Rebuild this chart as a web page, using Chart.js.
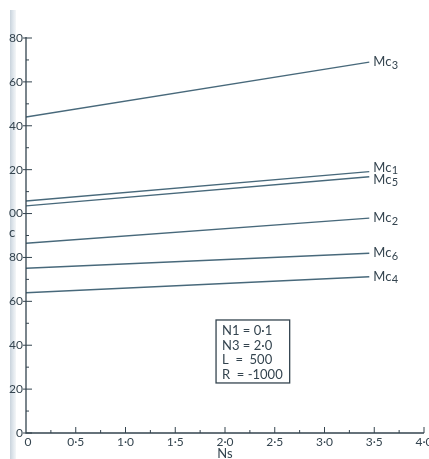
<!DOCTYPE html>
<html><head><meta charset="utf-8">
<style>html,body{margin:0;padding:0;background:#fff}#wrap{width:429px;height:459px;position:relative}</style>
<script src="https://cdn.jsdelivr.net/npm/chart.js@4.4.0/dist/chart.umd.min.js"></script>
</head><body><div id="wrap"><canvas id="c" width="429" height="459"></canvas></div>
<script>
const seriesNames = ['Mc3','Mc1','Mc5','Mc2','Mc6','Mc4'];
const labelNudge = [0,-4,3,0,0,0];
const nsValues = [0, 3.45];
const mc3 = [144, 169];
const mc1 = [105.7, 119.1];
const mc5 = [103.5, 116.8];
const mc2 = [86.5, 97.9];
const mc6 = [75.1, 81.9];
const mc4 = [63.9, 71.2];
const seriesValues = [mc3, mc1, mc5, mc2, mc6, mc4];
const yTicks = [0,20,40,60,80,100,120,140,160,180];
const xTicks = [0,0.5,1,1.5,2,2.5,3,3.5,4];
const boxLines = ['N1 = 0·1','N3 = 2·0','L  =  500','R  = -1000'];

const ink = '#34444f';
const lineCol = '#48697b';

const datasets = seriesValues.map((vals,i)=>({
  label: seriesNames[i],
  data: nsValues.map((x,j)=>({x:x,y:vals[j]})),
  borderColor: lineCol, borderWidth: 1.4, pointRadius: 0, fill:false, tension:0
}));

function yLabel(v){ return v>=100 ? String(v).slice(1) : String(v); }
function xLabel(v){ return v===0 ? '0' : v.toFixed(1).replace('.','·'); }

const deco = {
  id:'deco',
  beforeDraw(chart){
    const ctx = chart.ctx;
    const g = ctx.createLinearGradient(10,0,16,0);
    g.addColorStop(0,'#c9d3dc'); g.addColorStop(0.5,'#dfe6ec'); g.addColorStop(1,'#f4f6f8');
    ctx.fillStyle = g; ctx.fillRect(10,10,6,449);
  },
  afterDraw(chart){
    const ctx = chart.ctx, xs = chart.scales.x, ys = chart.scales.y;
    const x0 = xs.getPixelForValue(0), y0 = ys.getPixelForValue(0);
    ctx.save();
    ctx.strokeStyle = ink; ctx.lineWidth = 1.3;
    ctx.beginPath();
    ctx.moveTo(x0, ys.getPixelForValue(180)-1); ctx.lineTo(x0, y0);
    ctx.lineTo(xs.getPixelForValue(4), y0); ctx.stroke();
    ctx.lineWidth = 1;
    for(let v=0; v<=180; v+=10){
      const p = ys.getPixelForValue(v);
      ctx.beginPath();
      if(v%20===0){ ctx.moveTo(x0-3,p); ctx.lineTo(x0+6,p);} else { ctx.moveTo(x0,p); ctx.lineTo(x0+3,p);}
      ctx.stroke();
    }
    for(let v=0.25; v<=4.001; v+=0.25){
      const p = xs.getPixelForValue(v);
      ctx.beginPath();
      const major = Math.abs((v*2)-Math.round(v*2))<1e-6;
      ctx.moveTo(p,y0); ctx.lineTo(p, y0-(major?6:3)); ctx.stroke();
    }
    ctx.fillStyle = ink; ctx.font = '12px Lato';
    ctx.textAlign='right'; ctx.textBaseline='middle';
    yTicks.forEach(v=>{ ctx.fillText(yLabel(v), x0-3, ys.getPixelForValue(v)); });
    ctx.textAlign='center'; ctx.textBaseline='middle';
    xTicks.forEach(v=>{ ctx.fillText(xLabel(v), xs.getPixelForValue(v)+ (v===0?2:0), y0+9); });
    ctx.font = '13px Lato';
    ctx.fillText('Ns', xs.getPixelForValue(2), y0+21);
    ctx.fillText('c', 12, ys.getPixelForValue(91));
    chart.data.datasets.forEach((ds,i)=>{
      const last = ds.data[ds.data.length-1];
      const px = xs.getPixelForValue(last.x)+4, py = ys.getPixelForValue(last.y)+labelNudge[i];
      const nm = ds.label;
      ctx.textAlign='left'; ctx.textBaseline='middle';
      ctx.font = '13px Lato';
      ctx.fillText(nm.slice(0,2), px, py);
      const w = ctx.measureText(nm.slice(0,2)).width;
      ctx.font = '11px Lato';
      ctx.fillText(nm.slice(2), px+w+0.5, py+3);
    });
    const bx1 = xs.getPixelForValue(1.91), bx2 = xs.getPixelForValue(2.65);
    const by1 = ys.getPixelForValue(51.5), by2 = ys.getPixelForValue(22.8);
    ctx.lineWidth = 1.3;
    ctx.strokeRect(bx1, by1, bx2-bx1, by2-by1);
    ctx.font = '13px Lato'; ctx.textAlign='left'; ctx.textBaseline='middle';
    boxLines.forEach((t,i)=>{ ctx.fillText(t, bx1+6, by1+11+i*14.5); });
    ctx.restore();
  }
};

new Chart(document.getElementById('c'), {
  type:'line',
  data:{datasets},
  options:{
    responsive:false, animation:false, maintainAspectRatio:false,
    layout:{padding:{left:26,right:5,top:38,bottom:26}},
    plugins:{legend:{display:false},tooltip:{enabled:false}},
    scales:{
      x:{type:'linear',min:0,max:4,ticks:{display:false,stepSize:0.5},grid:{display:false},border:{display:false},
         afterFit(s){s.height=0;}},
      y:{type:'linear',min:0,max:180,ticks:{display:false,stepSize:20},grid:{display:false},border:{display:false},
         afterFit(s){s.width=0;}}
    }
  },
  plugins:[deco]
});
</script></body></html>
